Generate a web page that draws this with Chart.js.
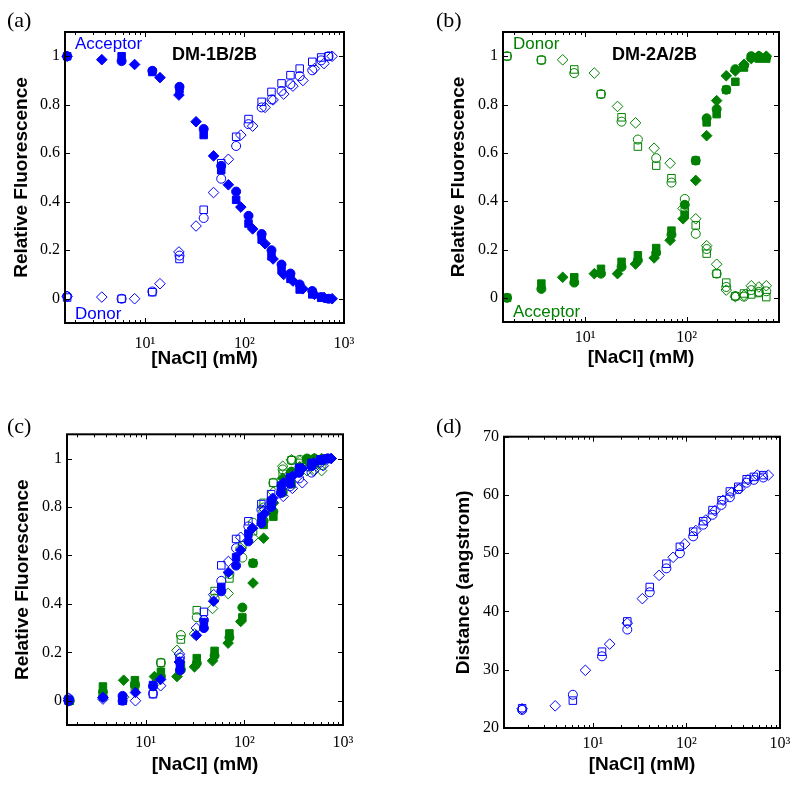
<!DOCTYPE html>
<html>
<head>
<meta charset="utf-8">
<script src="https://cdn.jsdelivr.net/npm/chart.js@4.4.1/dist/chart.umd.min.js"></script>
<style>
  body { margin: 0; background: #fff; }
  #wrap { position: relative; width: 800px; height: 787px; overflow: hidden; }
  canvas { position: absolute; }
  .lbl { position: absolute; white-space: nowrap; line-height: 1; }
  .pan { font-family: "Liberation Serif", serif; font-size: 22px; color: #000; }
  .note { font-family: "Liberation Sans", Arial, sans-serif; font-size: 17px; }
  .ttl { font-family: "Liberation Sans", Arial, sans-serif; font-size: 18px; font-weight: bold; color: #000; }
</style>
</head>
<body>
<div id="wrap">
  <canvas id="cA" width="400" height="390" style="left:0;top:0"></canvas>
  <canvas id="cB" width="400" height="390" style="left:400px;top:0"></canvas>
  <canvas id="cC" width="400" height="397" style="left:0;top:390px"></canvas>
  <canvas id="cD" width="400" height="397" style="left:400px;top:390px"></canvas>

  <div class="lbl pan" style="left:7px;top:9px">(a)</div>
  <div class="lbl pan" style="left:436px;top:9px">(b)</div>
  <div class="lbl pan" style="left:7px;top:415px">(c)</div>
  <div class="lbl pan" style="left:436px;top:415px">(d)</div>

  <div class="lbl note" style="left:75px;top:35px;color:#0000ff">Acceptor</div>
  <div class="lbl note" style="left:75px;top:305px;color:#0000ff">Donor</div>
  <div class="lbl ttl" style="left:172px;top:45px">DM-1B/2B</div>

  <div class="lbl note" style="left:513px;top:35px;color:#008000">Donor</div>
  <div class="lbl note" style="left:513px;top:303px;color:#008000">Acceptor</div>
  <div class="lbl ttl" style="left:612px;top:45px">DM-2A/2B</div>
</div>
<script>
// x-axis ticks (log scale)
const xTickValues = [10, 100, 1000];
const xTickLabels = ['10¹', '10²', '10³'];

// (a) DM-1B/2B
const xA_cs = [1.66, 5.85, 11.9, 22.3, 39, 58.5, 82.6, 110, 149, 187, 236, 290, 359, 480, 590, 700];
const xA_d = [1.66, 3.7, 7.9, 14.2, 22, 32.7, 49, 69, 92, 121, 161, 194, 248, 307, 387, 505, 630, 760];
const accA_circle = [1.0, 0.98, 0.94, 0.874, 0.70, 0.548, 0.442, 0.342, 0.267, 0.20, 0.141, 0.104, 0.059, 0.032, 0.007, 0.0];
const accA_square = [1.0, 1.0, 0.935, 0.863, 0.675, 0.53, 0.408, 0.31, 0.244, 0.175, 0.118, 0.082, 0.038, 0.018, 0.004, 0.0];
const accA_diamond = [1.0, 0.986, 0.966, 0.912, 0.84, 0.73, 0.589, 0.47, 0.378, 0.288, 0.227, 0.164, 0.10, 0.073, 0.041, 0.018, 0.005, 0.0];
const donA_circle = [0.01, 0.0, 0.03, 0.178, 0.333, 0.495, 0.63, 0.72, 0.789, 0.822, 0.857, 0.885, 0.918, 0.942, 0.983, 1.0];
const donA_square = [0.005, 0.0, 0.027, 0.164, 0.367, 0.559, 0.668, 0.741, 0.812, 0.853, 0.888, 0.922, 0.949, 0.977, 0.995, 1.0];
const donA_diamond = [0.01, 0.007, 0.0, 0.062, 0.193, 0.30, 0.438, 0.575, 0.675, 0.712, 0.789, 0.82, 0.844, 0.877, 0.90, 0.949, 0.97, 1.0];

// (b) DM-2A/2B
const xB_cs = [1.7, 3.7, 7.8, 14.3, 22.8, 33, 50, 70.7, 95.6, 122.6, 157, 197, 245, 301, 366, 432, 513, 607];
const xB_d = [6.0, 12.3, 20.8, 31.3, 47.7, 68.6, 92, 122.6, 157, 197, 245, 301, 366, 432, 513, 607];
const donB_circle = [1.0, 0.984, 0.93, 0.843, 0.729, 0.655, 0.578, 0.477, 0.409, 0.265, 0.202, 0.10, 0.045, 0.007, 0.005, 0.032, 0.025, 0.027];
const donB_square = [1.0, 0.984, 0.945, 0.843, 0.747, 0.626, 0.547, 0.495, 0.358, 0.30, 0.183, 0.10, 0.063, 0.007, 0.018, 0.014, 0.02, 0.003];
const donB_diamond = [0.985, 0.93, 0.792, 0.724, 0.619, 0.557, 0.37, 0.327, 0.216, 0.139, 0.032, 0.005, 0.01, 0.05, 0.045, 0.05];
const accB_circle = [0.0, 0.037, 0.063, 0.10, 0.128, 0.155, 0.186, 0.261, 0.385, 0.568, 0.743, 0.781, 0.861, 0.946, 0.96, 1.0, 1.0, 0.995];
const accB_square = [0.0, 0.059, 0.085, 0.12, 0.149, 0.176, 0.206, 0.278, 0.344, 0.568, 0.726, 0.76, 0.861, 0.894, 0.953, 0.995, 0.99, 0.99];
const accB_diamond = [0.085, 0.10, 0.10, 0.14, 0.165, 0.238, 0.327, 0.486, 0.671, 0.816, 0.919, 0.939, 0.966, 0.99, 1.0, 1.0];

// (c) overlay, values
const cBlueF_circle = [0.0, 0.02, 0.06, 0.126, 0.30, 0.452, 0.558, 0.658, 0.733, 0.80, 0.859, 0.896, 0.941, 0.968, 0.993, 1.0];
const cBlueF_square = [0.0, 0.0, 0.065, 0.137, 0.325, 0.47, 0.592, 0.69, 0.756, 0.825, 0.882, 0.918, 0.962, 0.982, 0.996, 1.0];
const cBlueF_diamond = [0.0, 0.014, 0.034, 0.088, 0.16, 0.27, 0.411, 0.53, 0.622, 0.712, 0.773, 0.836, 0.90, 0.927, 0.959, 0.982, 0.995, 1.0];
const cGreenO_circle = [0.0, 0.016, 0.07, 0.157, 0.271, 0.345, 0.422, 0.523, 0.591, 0.735, 0.798, 0.90, 0.955, 0.993, 0.995, 0.968, 0.975, 0.973];
const cGreenO_square = [0.0, 0.016, 0.055, 0.157, 0.253, 0.374, 0.453, 0.505, 0.642, 0.70, 0.817, 0.90, 0.937, 0.993, 0.982, 0.986, 0.98, 0.997];
const cGreenO_diamond = [0.015, 0.07, 0.208, 0.276, 0.381, 0.443, 0.63, 0.673, 0.784, 0.861, 0.968, 0.995, 0.99, 0.95, 0.955, 0.95];

// (d) distance
const xD_cs = [1.75, 6.1, 12.5, 23.3, 40.5, 61, 85, 118, 151, 190, 237, 291, 358, 440, 526, 662];
const xD_d = [1.75, 3.95, 8.3, 15.1, 23.3, 33.8, 51, 72, 96, 126, 161, 201, 247, 303, 372, 455, 571, 750];
const distD_circle = [23.1, 25.7, 32.3, 36.9, 43.3, 47.4, 50.0, 52.9, 54.9, 56.6, 58.3, 59.6, 61.0, 62.1, 62.6, 63.0];
const distD_square = [23.4, 24.7, 33.1, 38.3, 44.2, 48.2, 51.1, 53.7, 55.5, 57.4, 59.1, 60.6, 61.4, 62.7, 63.1, 63.4];
const distD_diamond = [23.3, 23.8, 29.9, 34.4, 38.0, 42.2, 46.2, 49.3, 51.6, 53.9, 55.7, 57.3, 59.1, 60.4, 61.1, 62.6, 63.4, 63.4];

const fracTicks = [0, 0.2, 0.4, 0.6, 0.8, 1];
const distTicks = [20, 30, 40, 50, 60, 70];

const BLUE = '#0000ff';
const GREEN = '#008000';

function marks(xs, ys, shape, color, filled) {
  return {
    data: xs.map((x, i) => ({ x: x, y: ys[i] })),
    pointStyle: shape,
    pointRadius: shape === 'circle' ? 4.5 : 5.3,
    pointHoverRadius: shape === 'circle' ? 4.5 : 5.3,
    borderWidth: 1,
    borderColor: color,
    backgroundColor: filled ? color : 'rgba(0,0,0,0)',
    showLine: false,
    clip: false
  };
}

// axes box with inward ticks on all four sides, like the original figure
const frame = {
  id: 'frame',
  afterDraw(chart) {
    const { ctx, chartArea: a, scales: { x, y } } = chart;
    ctx.save();
    ctx.strokeStyle = '#000';
    ctx.lineWidth = 1;
    ctx.beginPath();
    y.ticks.forEach(t => {
      const py = Math.round(y.getPixelForValue(t.value)) + 0.5;
      ctx.moveTo(a.left, py); ctx.lineTo(a.left + 5, py);
      ctx.moveTo(a.right, py); ctx.lineTo(a.right - 5, py);
    });
    for (let d = 1; d <= 1000; d *= 10) {
      for (let m = 1; m < 10; m++) {
        const v = d * m;
        if (v < x.min || v > x.max) continue;
        const px = Math.round(x.getPixelForValue(v)) + 0.5;
        const len = m === 1 ? 5 : 3;
        ctx.moveTo(px, a.bottom); ctx.lineTo(px, a.bottom - len);
        ctx.moveTo(px, a.top); ctx.lineTo(px, a.top + len);
      }
    }
    ctx.stroke();
    ctx.lineWidth = 2;
    ctx.strokeRect(a.left, a.top, a.right - a.left, a.bottom - a.top);
    ctx.restore();
  }
};

const tickFont = { family: '"Liberation Serif", serif', size: 16 };
const titleFont = { family: '"Liberation Sans", Arial, sans-serif', size: 19, weight: 'bold' };

function panel(id, datasets, p) {
  new Chart(document.getElementById(id), {
    type: 'scatter',
    data: { datasets: datasets },
    options: {
      responsive: false,
      animation: false,
      events: [],
      layout: { padding: { left: 0, top: p.top, right: p.right, bottom: 0 } },
      plugins: { legend: { display: false }, tooltip: { enabled: false } },
      scales: {
        x: {
          type: 'logarithmic',
          min: p.xmin,
          max: p.xmax,
          grid: { display: false, drawTicks: false },
          border: { display: false },
          afterBuildTicks: s => {
            s.ticks = xTickValues.filter(v => v >= s.min && v <= s.max).map(v => ({ value: v }));
          },
          ticks: {
            autoSkip: false,
            maxRotation: 0,
            padding: p.xpad,
            color: '#000',
            font: tickFont,
            callback: v => xTickLabels[xTickValues.indexOf(v)]
          },
          title: { display: true, text: '[NaCl] (mM)', color: '#000', font: titleFont, padding: { top: 0, bottom: p.xtb } },
          afterFit: s => { s.height = p.xh; }
        },
        y: {
          min: p.ymin,
          max: p.ymax,
          grid: { display: false, drawTicks: false },
          border: { display: false },
          afterBuildTicks: s => { s.ticks = p.yticks.map(v => ({ value: v })); },
          ticks: { padding: 5, color: '#000', font: tickFont, callback: v => String(v) },
          title: { display: true, text: p.ytitle, color: '#000', font: titleFont, padding: { top: p.ytp, bottom: 0 } },
          afterFit: s => { s.width = p.yw; }
        }
      }
    },
    plugins: [frame]
  });
}

panel('cA', [
  marks(xA_cs, accA_circle, 'circle', BLUE, true),
  marks(xA_cs, accA_square, 'rect', BLUE, true),
  marks(xA_d, accA_diamond, 'rectRot', BLUE, true),
  marks(xA_cs, donA_circle, 'circle', BLUE, false),
  marks(xA_cs, donA_square, 'rect', BLUE, false),
  marks(xA_d, donA_diamond, 'rectRot', BLUE, false)
], { top: 32, right: 56, yw: 65, xh: 67, xmin: 1.58, xmax: 1000, ymin: -0.1, ymax: 1.1,
     yticks: fracTicks, ytitle: 'Relative Fluorescence', ytp: 10.6, xpad: 11, xtb: 19.6 });

panel('cB', [
  marks(xB_cs, donB_circle, 'circle', GREEN, false),
  marks(xB_cs, donB_square, 'rect', GREEN, false),
  marks(xB_d, donB_diamond, 'rectRot', GREEN, false),
  marks(xB_cs, accB_circle, 'circle', GREEN, true),
  marks(xB_cs, accB_square, 'rect', GREEN, true),
  marks(xB_d, accB_diamond, 'rectRot', GREEN, true)
], { top: 32, right: 21, yw: 103, xh: 68, xmin: 1.55, xmax: 810, ymin: -0.1, ymax: 1.1,
     yticks: fracTicks, ytitle: 'Relative Fluorescence', ytp: 47, xpad: 6, xtb: 20.6 });

panel('cC', [
  marks(xA_cs, cBlueF_circle, 'circle', BLUE, true),
  marks(xA_cs, cBlueF_square, 'rect', BLUE, true),
  marks(xA_d, cBlueF_diamond, 'rectRot', BLUE, true),
  marks(xA_cs, donA_circle, 'circle', BLUE, false),
  marks(xA_cs, donA_square, 'rect', BLUE, false),
  marks(xA_d, donA_diamond, 'rectRot', BLUE, false),
  marks(xB_cs, cGreenO_circle, 'circle', GREEN, false),
  marks(xB_cs, cGreenO_square, 'rect', GREEN, false),
  marks(xB_d, cGreenO_diamond, 'rectRot', GREEN, false),
  marks(xB_cs, accB_circle, 'circle', GREEN, true),
  marks(xB_cs, accB_square, 'rect', GREEN, true),
  marks(xB_d, accB_diamond, 'rectRot', GREEN, true)
], { top: 44.3, right: 57, yw: 67, xh: 62, xmin: 1.6, xmax: 1000, ymin: -0.1, ymax: 1.1,
     yticks: fracTicks, ytitle: 'Relative Fluorescence', ytp: 11, xpad: 8, xtb: 10.6 });

panel('cD', [
  marks(xD_cs, distD_circle, 'circle', BLUE, false),
  marks(xD_cs, distD_square, 'rect', BLUE, false),
  marks(xD_d, distD_diamond, 'rectRot', BLUE, false)
], { top: 46.7, right: 20, yw: 104, xh: 59, xmin: 1.12, xmax: 1000, ymin: 20, ymax: 70,
     yticks: distTicks, ytitle: 'Distance (angstrom)', ytp: 52.5, xpad: 6, xtb: 10.6 });
</script>
</body>
</html>
